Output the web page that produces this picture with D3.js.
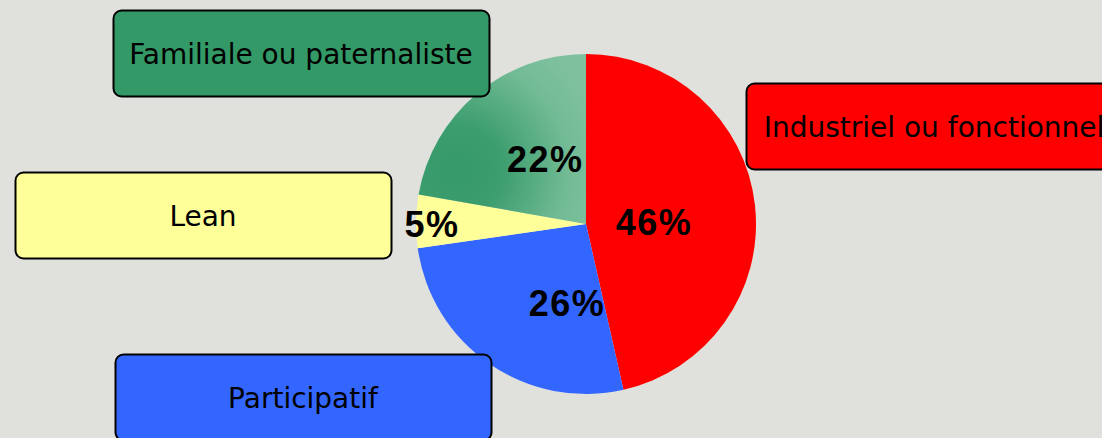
<!DOCTYPE html>
<html><head><meta charset="utf-8">
<script src="https://cdn.jsdelivr.net/npm/d3@7"></script>
<style>html,body{margin:0;padding:0;background:#e0e0dc;overflow:hidden}</style>
</head><body>
<svg id="c" width="1102" height="438"></svg>
<script>
const categories = ["Industriel ou fonctionnel", "Participatif", "Lean", "Familiale ou paternaliste"];
const values = [46, 26, 5, 22];
const percentLabels = ["46%", "26%", "5%", "22%"];
const colors = ["#ff0000", "#3366ff", "#ffff99", "url(#gGreen)"];
const boxColors = ["#ff0000", "#3366ff", "#ffff99", "#339966"];

const svg = d3.select("#c");
const W = 1102, H = 438;
svg.append("rect").attr("width", W).attr("height", H).attr("fill", "#e0e0dc");

const cx = 586, cy = 224, R = 170;

const defs = svg.append("defs");
// gradient in the pie group's local coordinates (origin = pie centre)
const rg = defs.append("radialGradient").attr("id", "gGreen")
  .attr("gradientUnits", "userSpaceOnUse")
  .attr("cx", -130).attr("cy", -54).attr("r", 150);
rg.append("stop").attr("offset", "0%").attr("stop-color", "#359968");
rg.append("stop").attr("offset", "30%").attr("stop-color", "#3c9d6e");
rg.append("stop").attr("offset", "75%").attr("stop-color", "#72bb95");
rg.append("stop").attr("offset", "100%").attr("stop-color", "#7fc19f");

const pie = d3.pie().sort(null).value(d => d);
const arcs = pie(values);
const arc = d3.arc().innerRadius(0).outerRadius(R);

const g = svg.append("g").attr("transform", `translate(${cx},${cy})`);
g.selectAll("path").data(arcs).enter().append("path")
  .attr("d", arc).attr("fill", (d, i) => colors[i]);

// percent label placement: radius and angle tweak per slice (relative to slice mid-angle)
const labelRadius = [68, 81, 154, 77];
const labelAngleShift = [5, -21, -1, 8];
g.selectAll("text.pct").data(arcs).enter().append("text")
  .attr("class", "pct")
  .attr("x", (d, i) => {
    const a = ((d.startAngle + d.endAngle) / 2) + labelAngleShift[i] * Math.PI / 180;
    return labelRadius[i] * Math.sin(a);
  })
  .attr("y", (d, i) => {
    const a = ((d.startAngle + d.endAngle) / 2) + labelAngleShift[i] * Math.PI / 180;
    return -labelRadius[i] * Math.cos(a);
  })
  .attr("dy", "0.36em")
  .attr("text-anchor", "middle")
  .attr("font-family", "Liberation Sans, Arial, sans-serif")
  .attr("font-weight", "bold")
  .attr("font-size", 36)
  .attr("letter-spacing", 1.5)
  .attr("fill", "#000")
  .text((d, i) => percentLabels[i]);

// category boxes
const boxPos = [[746, 83], [115, 354], [15, 172], [113, 10]];
const boxW = 376, boxH = 86;
const bg = svg.selectAll("g.box").data(categories).enter().append("g")
  .attr("class", "box")
  .attr("transform", (d, i) => `translate(${boxPos[i][0]},${boxPos[i][1]})`);
bg.append("rect").attr("x", 0.5).attr("y", 0.5).attr("width", boxW).attr("height", boxH)
  .attr("rx", 8).attr("ry", 8)
  .attr("fill", (d, i) => boxColors[i]).attr("stroke", "#000").attr("stroke-width", 2);
bg.append("text").attr("x", boxW / 2).attr("y", boxH / 2 + 1)
  .attr("dy", "0.36em").attr("text-anchor", "middle")
  .attr("font-family", "DejaVu Sans, Verdana, sans-serif")
  .attr("font-size", 28).attr("fill", "#000")
  .text(d => d);
</script>
</body></html>
